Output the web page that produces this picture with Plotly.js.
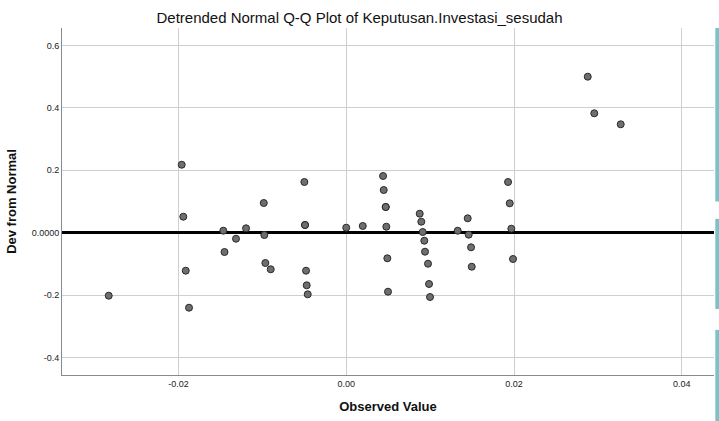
<!DOCTYPE html>
<html>
<head>
<meta charset="utf-8">
<script src="https://cdn.plot.ly/plotly-3.0.1.min.js"></script>
<style>html,body{margin:0;padding:0;background:#fff;}#chart{width:719px;height:421px;}</style>
</head>
<body>
<div id="chart"></div>
<script>
const observedValue = [
  -0.02831, -0.01961, -0.01942, -0.01913, -0.01874,
  -0.01465, -0.01451, -0.01314, -0.01194,
  -0.00983, -0.00976, -0.00964, -0.00900,
  -0.00499, -0.00491, -0.00491, -0.00479, -0.00471, -0.00459,
  0.00000, 0.00197,
  0.00439, 0.00447, 0.00471, 0.00471, 0.00478, 0.00490, 0.00498,
  0.00876, 0.00895, 0.00912, 0.00931, 0.00939, 0.00975, 0.00987, 0.00999,
  0.01329, 0.01448, 0.01460, 0.01488, 0.01496,
  0.01929, 0.01949, 0.01968, 0.01988,
  0.02879, 0.02957, 0.03272
];
const devFromNormal = [
  -0.2022, 0.2176, 0.0510, -0.1221, -0.2407,
  0.0061, -0.0622, -0.0196, 0.0138,
  0.0949, -0.0077, -0.0974, -0.1176,
  0.1622, 0.0244, 0.0244, -0.1221, -0.1689, -0.1978,
  0.0157, 0.0212,
  0.1814, 0.1365, 0.0821, 0.0821, 0.0189, -0.0824, -0.1894,
  0.0606, 0.0349, 0.0019, -0.0260, -0.0612, -0.0997, -0.1647, -0.2064,
  0.0061, 0.0458, -0.0067, -0.0471, -0.1093,
  0.1622, 0.0939, 0.0125, -0.0846,
  0.4997, 0.3824, 0.3471
];
const xTickVals = [-0.02, 0, 0.02, 0.04];
const xTickText = ['-0.02', '0.00', '0.02', '0.04'];
const yTickVals = [-0.4, -0.2, 0, 0.2, 0.4, 0.6];
const yTickText = ['-0.4', '-0.2', '0.0000', '0.2', '0.4', '0.6'];

const font = 'Liberation Sans, Arial, sans-serif';

const trace = {
  x: observedValue,
  y: devFromNormal,
  type: 'scatter',
  mode: 'markers',
  marker: {size: 7, color: '#6e6e6e', line: {color: '#2a2a2a', width: 1}},
  hoverinfo: 'x+y'
};

const teal = '#79c3ca';
const layout = {
  width: 719, height: 421,
  margin: {l: 62, r: 5, t: 28, b: 46, pad: 0},
  paper_bgcolor: '#fff', plot_bgcolor: '#fff',
  showlegend: false,
  title: {text: 'Detrended Normal Q-Q Plot of Keputusan.Investasi_sesudah',
          font: {family: font, size: 15, color: '#111'}, x: 0.5, xanchor: 'center', y: 0.957, yanchor: 'middle'},
  xaxis: {
    range: [-0.03388, 0.04384],
    tickvals: xTickVals, ticktext: xTickText,
    showgrid: true, gridcolor: '#cfcfcf', gridwidth: 1,
    zeroline: false,
    showline: true, linecolor: '#8a8a8a', linewidth: 1,
    ticks: '', tickfont: {family: font, size: 9, color: '#222'},
    title: {text: 'Observed Value', font: {family: font, size: 13, color: '#111', weight: 'bold'}, standoff: 14}
  },
  yaxis: {
    range: [-0.4564, 0.6558],
    tickvals: yTickVals, ticktext: yTickText,
    showgrid: true, gridcolor: '#cfcfcf', gridwidth: 1,
    zeroline: true, zerolinecolor: '#000', zerolinewidth: 3,
    showline: true, linecolor: '#8a8a8a', linewidth: 1,
    ticks: '', tickfont: {family: font, size: 9, color: '#222'},
    title: {text: 'Dev from Normal', font: {family: font, size: 13, color: '#111', weight: 'bold'}, standoff: 12}
  },
  shapes: [
    {type: 'rect', xref: 'paper', yref: 'paper', x0: 1.002, x1: 1.01, y0: 0.50, y1: 1.0, fillcolor: teal, line: {width: 0}, layer: 'above'},
    {type: 'rect', xref: 'paper', yref: 'paper', x0: 1.002, x1: 1.01, y0: 0.19, y1: 0.45, fillcolor: teal, line: {width: 0}, layer: 'above'},
    {type: 'rect', xref: 'paper', yref: 'paper', x0: 1.002, x1: 1.01, y0: -0.14, y1: 0.13, fillcolor: teal, line: {width: 0}, layer: 'above'}
  ]
};

Plotly.newPlot('chart', [trace], layout, {displayModeBar: false, staticPlot: true});
</script>
</body>
</html>
